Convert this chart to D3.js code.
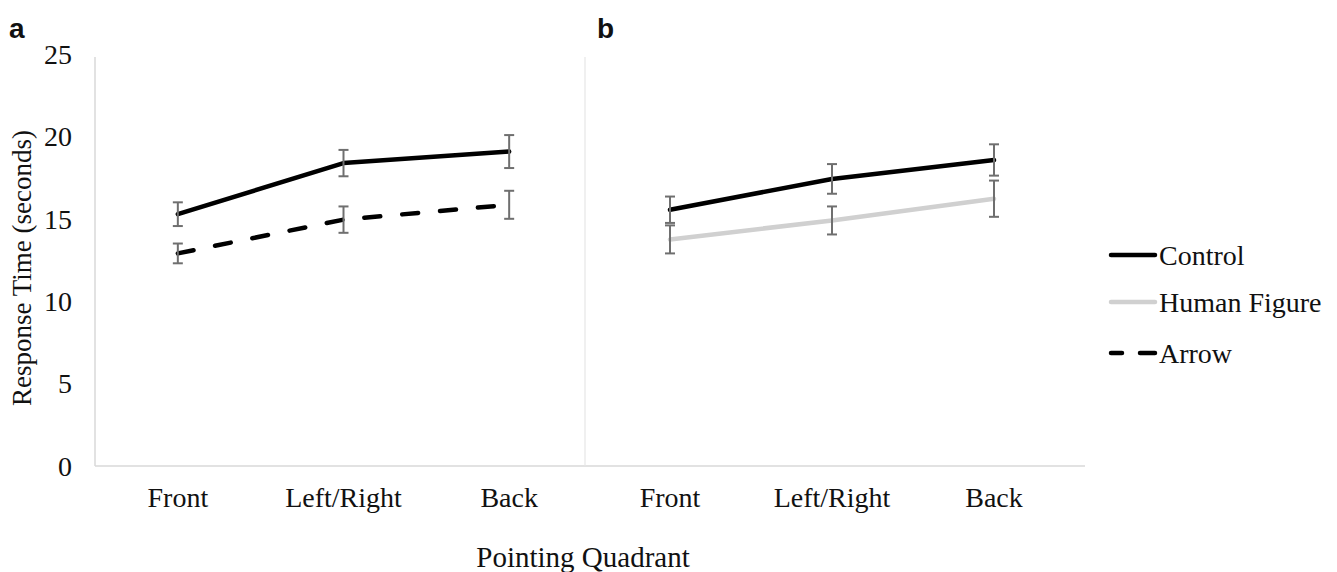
<!DOCTYPE html>
<html>
<head>
<meta charset="utf-8">
<script src="https://cdn.jsdelivr.net/npm/d3@7"></script>
<style>
  body { margin: 0; background: #fff; }
  text { font-family: "Liberation Serif", "Times New Roman", serif; fill: #111; }
</style>
</head>
<body>
<svg id="chart" width="1337" height="572"></svg>
<script>
// data
const quadrants = ["Front", "Left/Right", "Back"];
const yTicks = [0, 5, 10, 15, 20, 25];

const controlA = [15.28, 18.38, 19.08];
const controlAErr = [0.72, 0.8, 1.0];
const arrowA = [12.9, 14.95, 15.85];
const arrowAErr = [0.6, 0.8, 0.85];

const controlB = [15.55, 17.42, 18.57];
const controlBErr = [0.8, 0.9, 0.95];
const humanB = [13.75, 14.9, 16.22];
const humanBErr = [0.85, 0.85, 1.1];

const legendNames = ["Control", "Human Figure", "Arrow"];

const svg = d3.select("#chart");

const y = d3.scaleLinear().domain([0, 25]).range([466, 54]);
const xA = d3.scalePoint().domain(quadrants).range([95, 592]).padding(0.5);
const xB = d3.scalePoint().domain(quadrants).range([589, 1075]).padding(0.5);

const styles = {
    control: {stroke: "#000", dash: null, legendDash: null},
    human: {stroke: "#d0d0d0", dash: null, legendDash: null},
    arrow: {stroke: "#000", dash: "16,22", legendDash: "11,18,100"}
};

// axis frame
const axisColor = "#d9d9d9";
svg.append("line").attr("x1", 95).attr("x2", 1085).attr("y1", y(0)).attr("y2", y(0))
    .attr("stroke", axisColor).attr("stroke-width", 1.5);
svg.append("line").attr("x1", 95).attr("x2", 95).attr("y1", y(0)).attr("y2", 57)
    .attr("stroke", axisColor).attr("stroke-width", 1.5);
svg.append("line").attr("x1", 585).attr("x2", 585).attr("y1", y(0)).attr("y2", 57)
    .attr("stroke", "#e6e6e6").attr("stroke-width", 1.2);

// y tick labels
svg.append("g").selectAll("text")
    .data(yTicks)
    .join("text")
    .attr("x", 72)
    .attr("y", d => y(d))
    .attr("dy", "0.35em")
    .attr("text-anchor", "end")
    .attr("font-size", 28)
    .text(d => d);

// x tick labels
[xA, xB].forEach(sc => {
    svg.append("g").selectAll("text")
        .data(quadrants)
        .join("text")
        .attr("x", d => sc(d))
        .attr("y", 507)
        .attr("text-anchor", "middle")
        .attr("font-size", 28)
        .text(d => d);
});

// titles
svg.append("text")
    .attr("transform", "translate(31,268) rotate(-90)")
    .attr("text-anchor", "middle")
    .attr("font-size", 27)
    .text("Response Time (seconds)");
svg.append("text")
    .attr("x", 583).attr("y", 567)
    .attr("text-anchor", "middle")
    .attr("font-size", 29)
    .text("Pointing Quadrant");

svg.append("text").attr("x", 9).attr("y", 38)
    .style("font-family", "'Liberation Sans', Arial, sans-serif")
    .attr("font-weight", "bold").attr("font-size", 28).text("a");
svg.append("text").attr("x", 597).attr("y", 38)
    .style("font-family", "'Liberation Sans', Arial, sans-serif")
    .attr("font-weight", "bold").attr("font-size", 28).text("b");

function drawSeries(sc, values, errs, st) {
    const pts = quadrants.map((q, i) => ({q: q, v: values[i], e: errs[i]}));
    const line = d3.line().x(d => sc(d.q)).y(d => y(d.v));
    svg.append("path")
        .datum(pts)
        .attr("d", line)
        .attr("fill", "none")
        .attr("stroke", st.stroke)
        .attr("stroke-width", 4.5)
        .attr("stroke-linejoin", "round")
        .attr("stroke-linecap", "round")
        .attr("stroke-dasharray", st.dash);
    return pts;
}

function drawErrors(sc, pts) {
    const g = svg.append("g").attr("stroke", "#6f6f6f").attr("stroke-width", 2);
    pts.forEach(d => {
        const cx = sc(d.q);
        g.append("line").attr("x1", cx).attr("x2", cx)
            .attr("y1", y(d.v - d.e)).attr("y2", y(d.v + d.e));
        g.append("line").attr("x1", cx - 5).attr("x2", cx + 5)
            .attr("y1", y(d.v + d.e)).attr("y2", y(d.v + d.e));
        g.append("line").attr("x1", cx - 5).attr("x2", cx + 5)
            .attr("y1", y(d.v - d.e)).attr("y2", y(d.v - d.e));
    });
}

const pCA = drawSeries(xA, controlA, controlAErr, styles.control);
const pAA = drawSeries(xA, arrowA, arrowAErr, styles.arrow);
const pHB = drawSeries(xB, humanB, humanBErr, styles.human);
const pCB = drawSeries(xB, controlB, controlBErr, styles.control);
drawErrors(xA, pCA);
drawErrors(xA, pAA);
drawErrors(xB, pHB);
drawErrors(xB, pCB);

// legend
const legendStyles = [styles.control, styles.human, styles.arrow];
const legendY = [255, 302, 353];
const lg = svg.append("g");
legendNames.forEach((name, i) => {
    lg.append("line")
        .attr("x1", 1111).attr("x2", 1155)
        .attr("y1", legendY[i]).attr("y2", legendY[i])
        .attr("stroke", legendStyles[i].stroke)
        .attr("stroke-width", 4.5)
        .attr("stroke-linecap", "round")
        .attr("stroke-dasharray", legendStyles[i].legendDash);
    lg.append("text")
        .attr("x", 1159).attr("y", legendY[i])
        .attr("dy", "0.35em")
        .attr("font-size", 28)
        .text(name);
});
</script>
</body>
</html>
